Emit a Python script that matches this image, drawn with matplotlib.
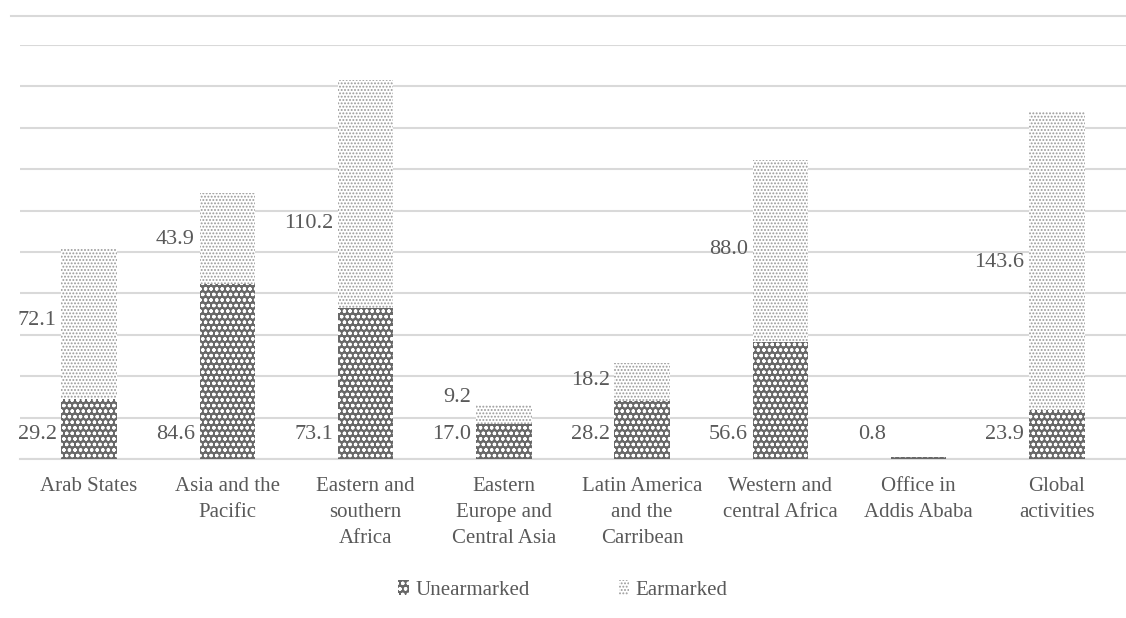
import numpy as np
import matplotlib
matplotlib.use("Agg")
import matplotlib.pyplot as plt
from matplotlib.patches import Patch
from matplotlib.lines import Line2D

# data
categories = [
    "Arab States",
    "Asia and the\nPacific",
    "Eastern and\nsouthern\nAfrica",
    "Eastern\nEurope and\nCentral Asia",
    "Latin America\nand the\nCarribean",
    "Western and\ncentral Africa",
    "Office in\nAddis Ababa",
    "Global\nactivities",
]
unearmarked = [29.2, 84.6, 73.1, 17.0, 28.2, 56.6, 0.8, 23.9]
earmarked = [72.1, 43.9, 110.2, 9.2, 18.2, 88.0, 0.0, 143.6]

# label heights (data units) as placed in the original
unearm_label_y = 11.6
earm_label_y = [67, 106, 114, 29.5, 38, 101, None, 95]

TEXT = "#595959"
GRID = "#d9d9d9"
DARK = "#686868"
DOTS = "#999999"

plt.rcParams["font.family"] = ["Liberation Serif", "DejaVu Serif"]
plt.rcParams["hatch.linewidth"] = 0.9

W, H = 1126, 618
fig = plt.figure(figsize=(W / 100, H / 100), dpi=100)
ax = fig.add_axes([20 / W, 1 - 459 / H, 1 - 20 / W, (459 - 45) / H])

x = np.arange(len(categories))
bw = 0.4
ax.bar(x, unearmarked, bw, color=DARK, edgecolor="white", linewidth=0,
       hatch="ooo", zorder=3, label="Unearmarked")
ax.bar(x, earmarked, bw, bottom=unearmarked, color="white", edgecolor=DOTS,
       linewidth=0, hatch=".....", zorder=3, label="Earmarked")

for i in range(len(categories)):
    ax.annotate(f"{unearmarked[i]:.1f}", (x[i] - bw / 2, unearm_label_y),
                xytext=(-3.5, 0), textcoords="offset points",
                ha="right", va="center", fontsize=16, color=TEXT)
    if earmarked[i] > 0:
        ax.annotate(f"{earmarked[i]:.1f}", (x[i] - bw / 2, earm_label_y[i]),
                    xytext=(-3.5, 0), textcoords="offset points",
                    ha="right", va="center", fontsize=16, color=TEXT)

ax.set_xlim(-0.5, len(categories) - 0.5)
ax.set_ylim(0, 200)
ax.set_yticks(np.arange(0, 201, 20))
ax.set_yticklabels([])
ax.yaxis.grid(True, color=GRID, linewidth=1.5)
ax.set_axisbelow(True)
ax.tick_params(axis="y", length=0)
ax.tick_params(axis="x", length=0, pad=13)
ax.set_xticks(x)
ax.set_xticklabels(categories, fontsize=15, color=TEXT, linespacing=1.5, va="top")
for s in ["top", "right", "left"]:
    ax.spines[s].set_visible(False)
ax.spines["bottom"].set_color(GRID)
ax.spines["bottom"].set_linewidth(1.5)

# thin border line at the top of the chart area
fig.add_artist(Line2D([11 / W, 1], [1 - 16 / H] * 2, color=GRID, linewidth=1.5))

handles = [
    Patch(facecolor=DARK, edgecolor="white", linewidth=0, hatch="ooo"),
    Patch(facecolor="white", edgecolor=DOTS, linewidth=0, hatch="....."),
]
fig.legend(handles, ["Unearmarked", "Earmarked"], loc="center",
           bbox_to_anchor=(0.5, 1 - 590 / H), ncol=2, frameon=False,
           fontsize=15, labelcolor=TEXT, handlelength=0.5, handleheight=0.7,
           handletextpad=0.3, columnspacing=4.3)

fig.savefig("out.png", dpi=100)
